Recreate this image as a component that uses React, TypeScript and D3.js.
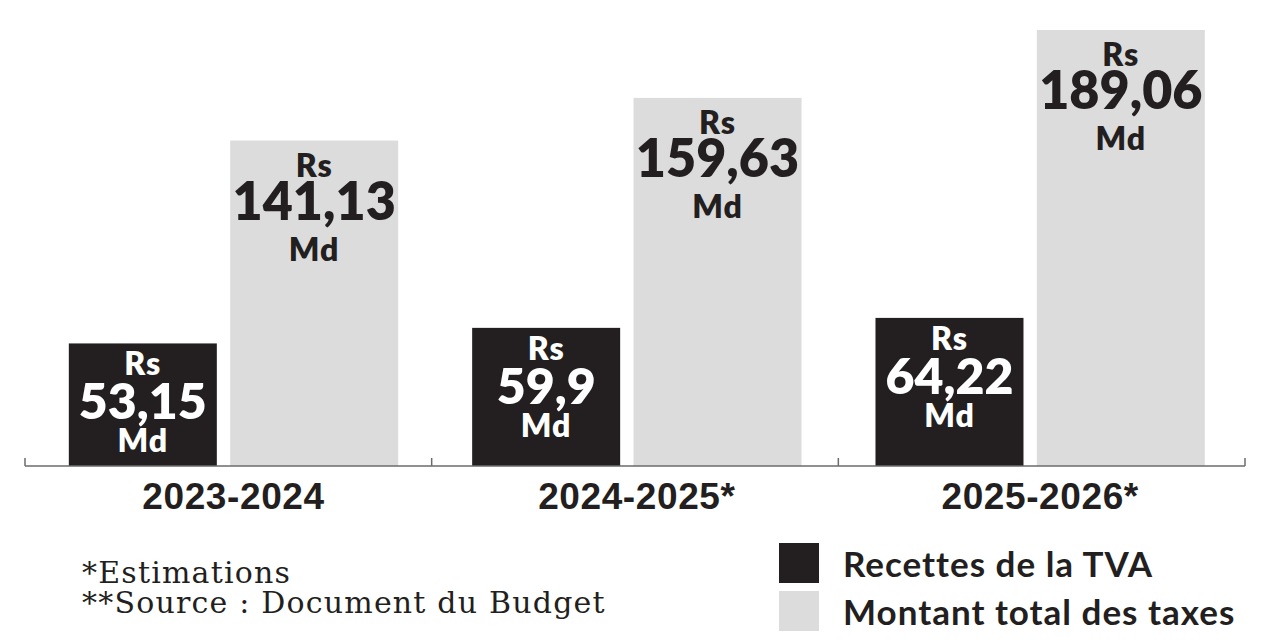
import React, { useEffect, useRef } from "react";
import * as d3 from "d3";

const years = ["2023-2024", "2024-2025*", "2025-2026*"];
const series = ["Recettes de la TVA", "Montant total des taxes"];
const tvaValues = [53.15, 59.9, 64.22];
const totalValues = [141.13, 159.63, 189.06];
const tvaLabels = ["53,15", "59,9", "64,22"];
const totalLabels = ["141,13", "159,63", "189,06"];
const footnotes = ["*Estimations", "**Source : Document du Budget"];

const WIDTH = 1280;
const HEIGHT = 644;
const DARK = "#231f20";
const LIGHT = "#dcdcdc";
const LABEL_FONT = "Lato, 'Open Sans', sans-serif";

const barStyle: Record<string, any> = {
  [series[0]]: { fill: DARK, text: "#ffffff", width: 148, numSize: 50, rs: 32, num: 76, md: 109 },
  [series[1]]: { fill: LIGHT, text: DARK, width: 168, numSize: 52, rs: 36, num: 79, md: 120 },
};

export default function App() {
  const ref = useRef<SVGSVGElement | null>(null);

  useEffect(() => {
    const svg = d3.select(ref.current);
    svg.selectAll("*").remove();

    // axis bands (tick positions) and bar bands are offset a little
    const xAxis = d3.scaleBand().domain(years).range([25, 1245]).padding(0);
    const x = d3.scaleBand().domain(years).range([31, 1241]).padding(0);
    const inner = d3.scaleBand().domain(series).range([33, 362]).paddingInner(0.08);
    const y = d3.scaleLinear().domain([0, 189.06]).range([466, 30]);

    const barCenter = (yr: string, key: string) =>
      x(yr)! + inner(key)! + inner.bandwidth() / 2;

    const rows = years.flatMap((yr, i) => [
      { year: yr, key: series[0], value: tvaValues[i], label: tvaLabels[i] },
      { year: yr, key: series[1], value: totalValues[i], label: totalLabels[i] },
    ]);

    const bars = svg.append("g").selectAll("g").data(rows).enter().append("g")
      .attr("transform", d => `translate(${barCenter(d.year, d.key)},0)`);

    bars.append("rect")
      .attr("x", d => -barStyle[d.key].width / 2)
      .attr("width", d => barStyle[d.key].width)
      .attr("y", d => y(d.value))
      .attr("height", d => y(0) - y(d.value))
      .attr("fill", d => barStyle[d.key].fill);

    // "Rs / value / Md" stacked inside each bar
    const lines = [
      { txt: () => "Rs", dy: (s: any) => s.rs, size: () => 32, ls: 1 },
      { txt: (d: any) => d.label, dy: (s: any) => s.num, size: (s: any) => s.numSize, ls: 0 },
      { txt: () => "Md", dy: (s: any) => s.md, size: () => 32, ls: 1 },
    ];
    lines.forEach(line => {
      bars.append("text")
        .attr("text-anchor", "middle")
        .attr("y", d => y(d.value) + line.dy(barStyle[d.key]))
        .attr("fill", d => barStyle[d.key].text)
        .style("font-family", LABEL_FONT)
        .style("font-weight", 800)
        .style("letter-spacing", line.ls + "px")
        .style("font-size", d => line.size(barStyle[d.key]) + "px")
        .text(d => line.txt(d));
    });

    // baseline with ticks at group edges
    const axis = svg.append("g").attr("stroke", "#6b6b6b").attr("stroke-width", 1.5);
    axis.append("line").attr("x1", 25).attr("x2", 1245).attr("y1", y(0)).attr("y2", y(0));
    const edges = years.map(yr => xAxis(yr)!).concat([xAxis.range()[1]]);
    axis.selectAll("line.tick").data(edges).enter().append("line")
      .attr("class", "tick")
      .attr("x1", d => d).attr("x2", d => d)
      .attr("y1", y(0) - 8).attr("y2", y(0));

    // year labels centred under each pair of bars
    svg.append("g").selectAll("text").data(years).enter().append("text")
      .attr("x", d => {
        const left = barCenter(d, series[0]) - barStyle[series[0]].width / 2;
        const right = barCenter(d, series[1]) + barStyle[series[1]].width / 2;
        return (left + right) / 2;
      })
      .attr("y", 509)
      .attr("text-anchor", "middle")
      .attr("fill", DARK)
      .style("font-family", "'Liberation Sans', Arial, sans-serif")
      .style("font-weight", 700)
      .style("letter-spacing", "0.6px")
      .style("font-size", "37px")
      .text(d => d);

    svg.append("g").selectAll("text").data(footnotes).enter().append("text")
      .attr("x", 82)
      .attr("y", (d, i) => 583 + i * 30)
      .attr("fill", DARK)
      .style("font-family", "'DejaVu Serif', serif")
      .style("letter-spacing", "1.2px")
      .style("font-size", "30px")
      .text(d => d);

    const legend = svg.append("g").selectAll("g").data(series).enter().append("g")
      .attr("transform", (d, i) => `translate(779,${543 + i * 48})`);
    legend.append("rect")
      .attr("width", 40).attr("height", 40)
      .attr("fill", d => barStyle[d].fill);
    legend.append("text")
      .attr("x", 64).attr("y", 34)
      .attr("fill", DARK)
      .style("font-family", LABEL_FONT)
      .style("font-weight", 700)
      .style("letter-spacing", "1px")
      .style("font-size", "35px")
      .text(d => d);
  }, []);

  return (
    <svg ref={ref} width={WIDTH} height={HEIGHT}
      style={{ position: "absolute", left: 0, top: 0, background: "#fff" }} />
  );
}
